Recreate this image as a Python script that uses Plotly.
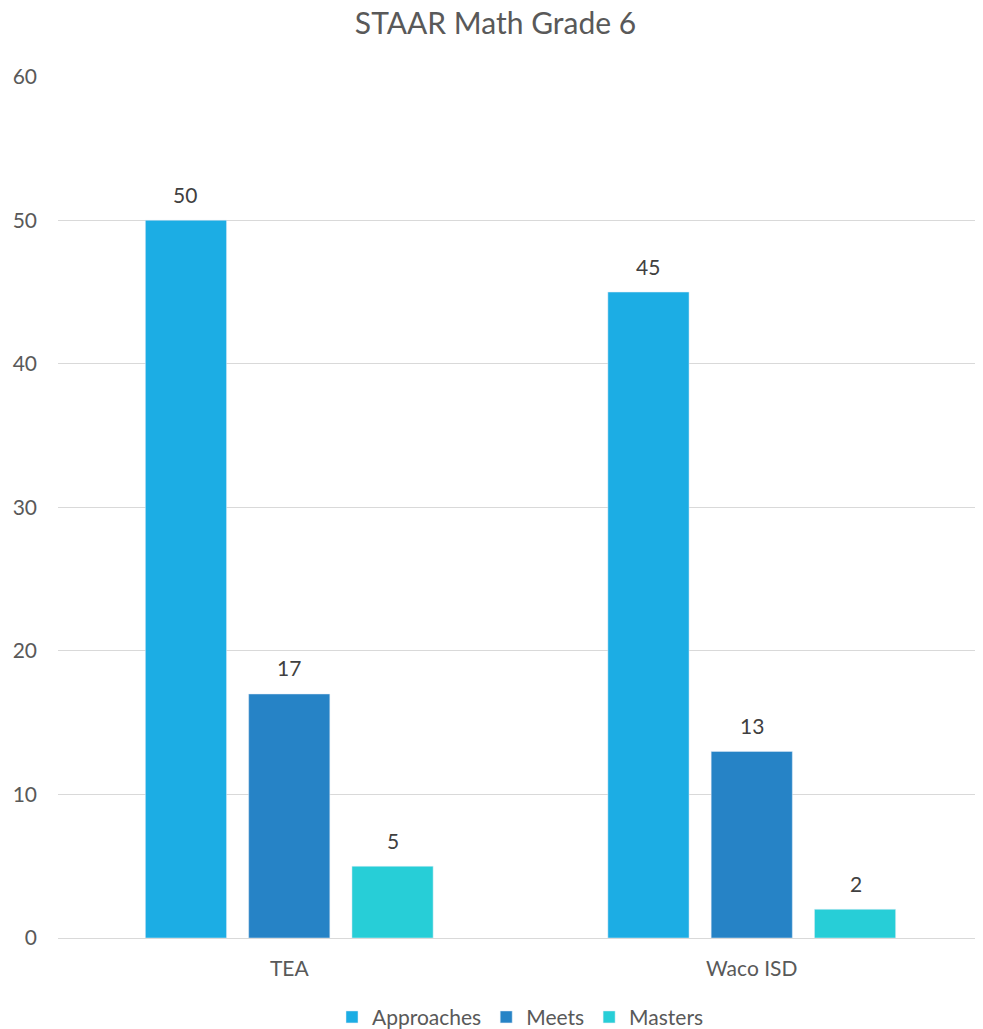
import plotly.graph_objects as go

categories = ["TEA", "Waco ISD"]
approaches = [50, 45]
meets = [17, 13]
masters = [5, 2]
series_names = ["Approaches", "Meets", "Masters"]
colors = ["#1CADE4", "#2683C6", "#27CED7"]

fig = go.Figure()
series = [approaches, meets, masters]
for name, vals, c in zip(series_names, series, colors):
    fig.add_trace(go.Bar(x=categories, y=vals, name=name, marker_color=c))

annotations = []
for i, vals in enumerate(series):
    for cat, v in zip(categories, vals):
        annotations.append(dict(x=cat, y=v, text=str(v), showarrow=False,
                                xshift=(i - 1) * 104, yshift=26, yanchor="middle",
                                font=dict(size=21, color="#404040")))

# page body has an 8px margin; figure is sized/offset to compensate
fig.update_layout(
    width=975, height=1021,
    margin=dict(l=50, r=0, t=68, b=91, autoexpand=False),
    paper_bgcolor="white", plot_bgcolor="white",
    font=dict(family="Lato, 'Noto Sans', sans-serif", color="#595959", size=21),
    title=dict(text="STAAR Math Grade 6", x=0.5, xanchor="center", y=1, yanchor="top",
               yref="container", pad=dict(t=5),
               font=dict(size=30, color="#595959")),
    barmode="group", bargap=0.33, bargroupgap=0.214,
    showlegend=True,
    legend=dict(orientation="h", x=0.5, xanchor="center", y=-0.092, yanchor="middle",
                font=dict(size=21, color="#595959"), traceorder="normal"),
    yaxis=dict(range=[0, 60.05], tickvals=[0, 10, 20, 30, 40, 50, 60], showgrid=True,
               gridcolor="#D9D9D9", gridwidth=1,
               zeroline=True, zerolinecolor="#D9D9D9", zerolinewidth=1,
               tickfont=dict(size=21, color="#595959"), ticks="", ticklabelstandoff=20),
    xaxis=dict(showline=True, linecolor="#D9D9D9", tickfont=dict(size=21, color="#595959"),
               ticks="", ticklabelstandoff=12),
    annotations=annotations,
)

fig.write_html("out.html")
